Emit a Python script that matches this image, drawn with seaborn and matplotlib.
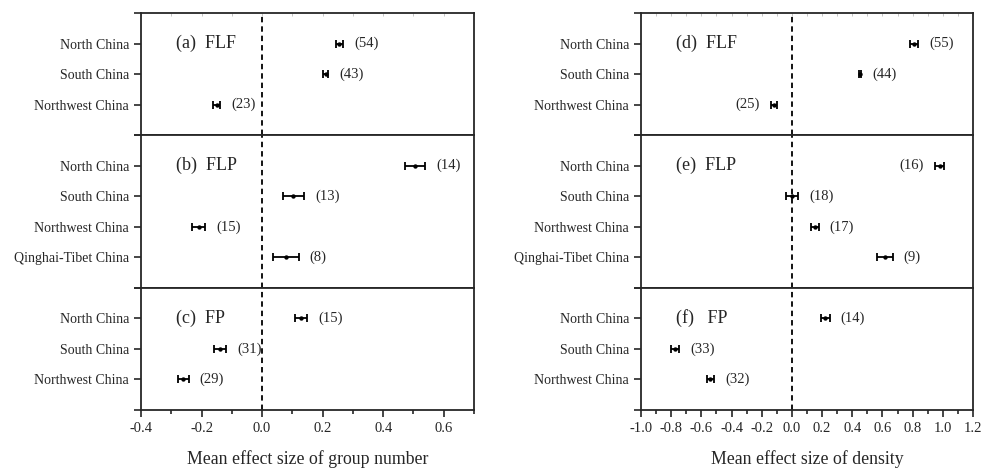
import numpy as np
import pandas as pd
import matplotlib
matplotlib.use("Agg")
import matplotlib.pyplot as plt
import matplotlib.transforms as mtransforms
from matplotlib.ticker import MultipleLocator, FixedLocator
import seaborn as sns

# ---- data -------------------------------------------------------------
regions3 = ["North China", "South China", "Northwest China"]
regions4 = ["North China", "South China", "Northwest China", "Qinghai-Tibet China"]

# group number: mean effect size, half-width of interval, sample size
gn_flf_mean = [0.255, 0.21, -0.15]
gn_flf_err = [0.012, 0.008, 0.012]
gn_flf_n = [54, 43, 23]

gn_flp_mean = [0.506, 0.103, -0.21, 0.078]
gn_flp_err = [0.033, 0.035, 0.022, 0.043]
gn_flp_n = [14, 13, 15, 8]

gn_fp_mean = [0.129, -0.138, -0.26]
gn_fp_err = [0.02, 0.02, 0.017]
gn_fp_n = [15, 31, 29]

# density
dn_flf_mean = [0.81, 0.45, -0.12]
dn_flf_err = [0.025, 0.008, 0.02]
dn_flf_n = [55, 44, 25]

dn_flp_mean = [0.98, 0.0, 0.152, 0.617]
dn_flp_err = [0.03, 0.04, 0.025, 0.05]
dn_flp_n = [16, 18, 17, 9]

dn_fp_mean = [0.22, -0.773, -0.54]
dn_fp_err = [0.03, 0.025, 0.025]
dn_fp_n = [14, 33, 32]

# which labels sit to the left of their mark
dn_flf_left = [False, False, True]
dn_flp_left = [True, False, False, False]

panel_titles_left = ["(a)  FLF", "(b)  FLP", "(c)  FP"]
panel_titles_right = ["(d)  FLF", "(e)  FLP", "(f)   FP"]
xlabel_left = "Mean effect size of group number"
xlabel_right = "Mean effect size of density"
xticks_left = [-0.4, -0.2, 0.0, 0.2, 0.4, 0.6]
xticks_right = [-1.0, -0.8, -0.6, -0.4, -0.2, 0.0, 0.2, 0.4, 0.6, 0.8, 1.0, 1.2]

# ---- style ------------------------------------------------------------
sns.set_style("ticks")
plt.rcParams["font.family"] = ["Liberation Serif", "DejaVu Serif"]
plt.rcParams["axes.unicode_minus"] = False
plt.rcParams["axes.linewidth"] = 1.3

fig = plt.figure(figsize=(9.83, 4.68), dpi=100)
bottom, top = 1 - 410 / 468, 1 - 13 / 468
ratios = [4, 5, 4]


def make_column(left, width):
    gs = fig.add_gridspec(3, 1, left=left, right=left + width, bottom=bottom,
                          top=top, hspace=0, height_ratios=ratios)
    return [fig.add_subplot(gs[i]) for i in range(3)]


def draw_panel(ax, regions, means, errs, ns, title, xlim, xticks, lefts=None,
               last=False, first=False):
    df = pd.DataFrame({"region": regions, "mean": means, "err": errs, "n": ns})
    df["pos"] = np.arange(len(df))
    if lefts is None:
        lefts = [False] * len(df)
    ax.errorbar(df["mean"], df["pos"], xerr=df["err"], fmt="none", ecolor="black",
                elinewidth=1.3, capsize=3.2, capthick=1.3, zorder=3)
    sns.scatterplot(data=df, x="mean", y="pos", ax=ax, color="black", s=10,
                    edgecolor="black", linewidth=0, zorder=4, legend=False)
    for _, r in df.iterrows():
        if lefts[int(r["pos"])]:
            ax.annotate(f"({int(r['n'])})", (r["mean"] - r["err"], r["pos"]),
                        xytext=(-8, 0), textcoords="offset points", ha="right",
                        va="center", fontsize=10.5)
        else:
            ax.annotate(f"({int(r['n'])})", (r["mean"] + r["err"], r["pos"]),
                        xytext=(8, 0), textcoords="offset points", ha="left",
                        va="center", fontsize=10.5)
    ax.axvline(0, color="black", lw=1.3, ls=(0, (3, 2.2)), zorder=1)
    n = len(df)
    ax.set_ylim(n, -1)
    ax.set_xlim(*xlim)
    ax.set_yticks(df["pos"])
    ax.set_yticklabels(df["region"], fontsize=10)
    ax.yaxis.set_minor_locator(FixedLocator([-1, n]))
    ax.tick_params(axis="y", which="major", direction="out", length=5, width=1.2,
                   left=True, right=False)
    ax.tick_params(axis="y", which="minor", direction="out", length=5, width=1.2)
    ax.set_xticks(xticks)
    ax.set_xticklabels([f"{v:.1f}" for v in xticks])
    ax.xaxis.set_minor_locator(MultipleLocator(0.1))
    if last:
        ax.tick_params(axis="x", which="major", direction="out", length=5, width=1.2,
                       labelsize=10.5, top=False)
        ax.tick_params(axis="x", which="minor", direction="out", length=3, width=1.2,
                       top=False)
    else:
        ax.tick_params(axis="x", which="both", bottom=False, labelbottom=False)
    if first:
        ax.tick_params(axis="x", which="both", top=True, direction="in", length=2,
                       width=0.6, color="#bbbbbb")
    ax.set_xlabel("")
    ax.set_ylabel("")
    for s in ax.spines.values():
        s.set_visible(True)
        s.set_linewidth(1.3)
    trans = mtransforms.blended_transform_factory(ax.transAxes, ax.transData)
    ax.text(0.105, 0, title, transform=trans, ha="left", va="center", fontsize=13)


left_axes = make_column(141 / 983, 333 / 983)
right_axes = make_column(641 / 983, 332 / 983)

xl = (-0.4, 0.7)
xr = (-1.0, 1.2)
draw_panel(left_axes[0], regions3, gn_flf_mean, gn_flf_err, gn_flf_n, panel_titles_left[0],
           xl, xticks_left, first=True)
draw_panel(left_axes[1], regions4, gn_flp_mean, gn_flp_err, gn_flp_n, panel_titles_left[1],
           xl, xticks_left)
draw_panel(left_axes[2], regions3, gn_fp_mean, gn_fp_err, gn_fp_n, panel_titles_left[2],
           xl, xticks_left, last=True)
draw_panel(right_axes[0], regions3, dn_flf_mean, dn_flf_err, dn_flf_n, panel_titles_right[0],
           xr, xticks_right, lefts=dn_flf_left, first=True)
draw_panel(right_axes[1], regions4, dn_flp_mean, dn_flp_err, dn_flp_n, panel_titles_right[1],
           xr, xticks_right, lefts=dn_flp_left)
draw_panel(right_axes[2], regions3, dn_fp_mean, dn_fp_err, dn_fp_n, panel_titles_right[2],
           xr, xticks_right, last=True)

left_axes[2].set_xlabel(xlabel_left, fontsize=12.8, labelpad=11)
right_axes[2].set_xlabel(xlabel_right, fontsize=12.8, labelpad=11)

fig.savefig("out.png", dpi=100)
